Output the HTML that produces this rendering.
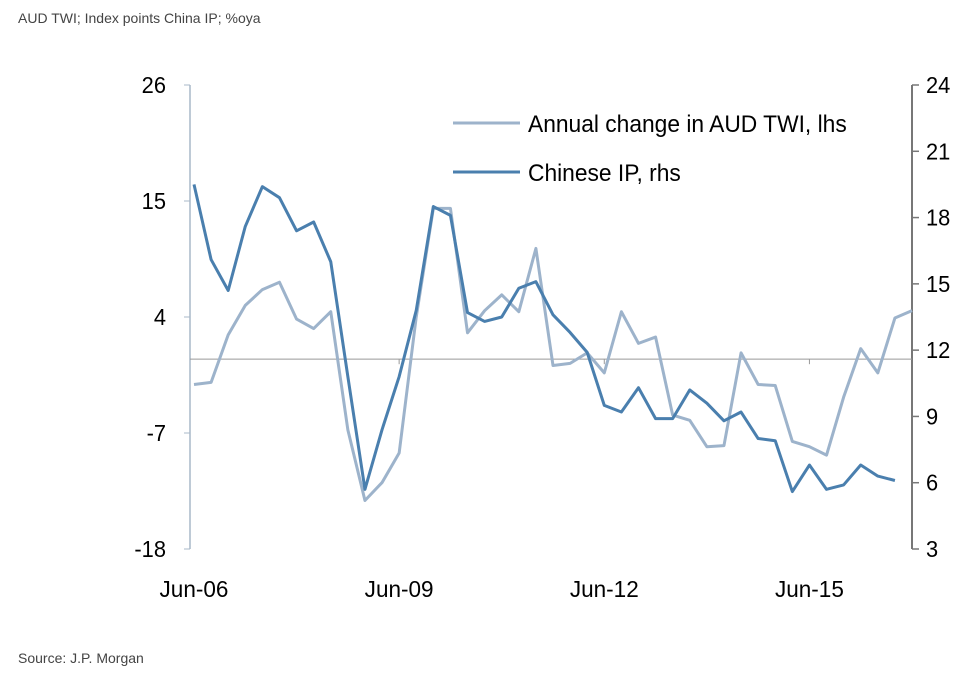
<!DOCTYPE html>
<html><head><meta charset="utf-8"><style>
body{margin:0;background:#fff;font-family:"Liberation Sans",sans-serif}
svg text{font-family:"Liberation Sans",sans-serif}
</style></head><body>
<svg id="c" width="976" height="673">
<text x="18" y="23" font-size="14" fill="#444">AUD TWI; Index points China IP; %oya</text>
<text x="18" y="663" font-size="14" fill="#444">Source: J.P. Morgan</text>
<g id="axes"></g><g id="series"></g>
<g>
<line x1="453" y1="123" x2="520" y2="123" stroke="#9db3cb" stroke-width="3"/>
<text x="528" y="132" font-size="24" transform="translate(528 0) scale(0.95 1) translate(-528 0)">Annual change in AUD TWI, lhs</text>
<line x1="453" y1="172" x2="520" y2="172" stroke="#4a7fae" stroke-width="3"/>
<text x="528" y="181" font-size="24" transform="translate(528 0) scale(0.95 1) translate(-528 0)">Chinese IP, rhs</text>
</g>
</svg>
<script>
const audTwi=[-2.4,-2.2,2.3,5.1,6.6,7.3,3.8,2.9,4.5,-6.7,-13.4,-11.7,-8.9,4.0,14.3,14.3,2.5,4.6,6.1,4.5,10.5,-0.6,-0.4,0.6,-1.3,4.5,1.5,2.1,-5.3,-5.8,-8.3,-8.2,0.6,-2.4,-2.5,-7.8,-8.3,-9.1,-3.6,1.0,-1.3,3.9,4.6];
const chinaIp=[19.5,16.1,14.7,17.6,19.4,18.9,17.4,17.8,16.0,10.8,5.7,8.4,10.8,13.8,18.5,18.1,13.7,13.3,13.5,14.8,15.1,13.6,12.8,11.9,9.5,9.2,10.3,8.9,8.9,10.2,9.6,8.8,9.2,8.0,7.9,5.6,6.8,5.7,5.9,6.8,6.3,6.1];
const leftTicks=[26,15,4,-7,-18];
const rightTicks=[24,21,18,15,12,9,6,3];
const xLabels=["Jun-06","Jun-09","Jun-12","Jun-15"];
const xLabelIdx=[0,12,24,36];
const NS="http://www.w3.org/2000/svg";
const x=i=>194+i*(912-194)/42;
const yL=v=>85+(26-v)*(464/44);
const yR=v=>85+(24-v)*(464/21);
function mk(t,a,p){const e=document.createElementNS(NS,t);for(const k in a)e.setAttribute(k,a[k]);p.appendChild(e);return e;}
const ax=document.getElementById('axes'),se=document.getElementById('series');
let e=mk('line',{x1:190,y1:85,x2:190,y2:549,stroke:'#a9b8c8','stroke-width':1.5},ax);


e=mk('line',{x1:912,y1:85,x2:912,y2:549,stroke:'#777','stroke-width':2},ax);


e=mk('line',{x1:190,y1:yL(0),x2:912,y2:yL(0),stroke:'#999','stroke-width':1},ax);


leftTicks.forEach(v=>{
 mk('line',{x1:184,y1:yL(v),x2:190,y2:yL(v),stroke:'#a9b8c8'},ax);
 const t=mk('text',{x:166,y:yL(v)+8,'font-size':23,'text-anchor':'end',transform:`translate(166 0) scale(0.95 1) translate(-166 0)`},ax);
 t.textContent=v;
 
 
});
rightTicks.forEach(v=>{
 mk('line',{x1:912,y1:yR(v),x2:919,y2:yR(v),stroke:'#777','stroke-width':1.5},ax);
 const t=mk('text',{x:926,y:yR(v)+8,'font-size':23,transform:`translate(926 0) scale(0.95 1) translate(-926 0)`},ax);
 t.textContent=v;
 
 
});
xLabels.forEach((s,k)=>{
 const xx=x(xLabelIdx[k]);
 if(k>0)mk('line',{x1:xx,y1:yL(0),x2:xx,y2:yL(0)+5,stroke:'#999'},ax);
 const t=mk('text',{x:xx,y:597,'font-size':23,'text-anchor':'middle',transform:`translate(${xx} 0) scale(0.98 1) translate(${-xx} 0)`},ax);
 t.textContent=s;
 
 
});
e=mk('polyline',{points:audTwi.map((v,i)=>x(i)+','+yL(v)).join(' '),fill:'none',stroke:'#9db3cb','stroke-width':3,'stroke-linejoin':'round'},se);


e=mk('polyline',{points:chinaIp.map((v,i)=>x(i)+','+yR(v)).join(' '),fill:'none',stroke:'#4a7fae','stroke-width':3,'stroke-linejoin':'round'},se);


</script>
</body></html>
